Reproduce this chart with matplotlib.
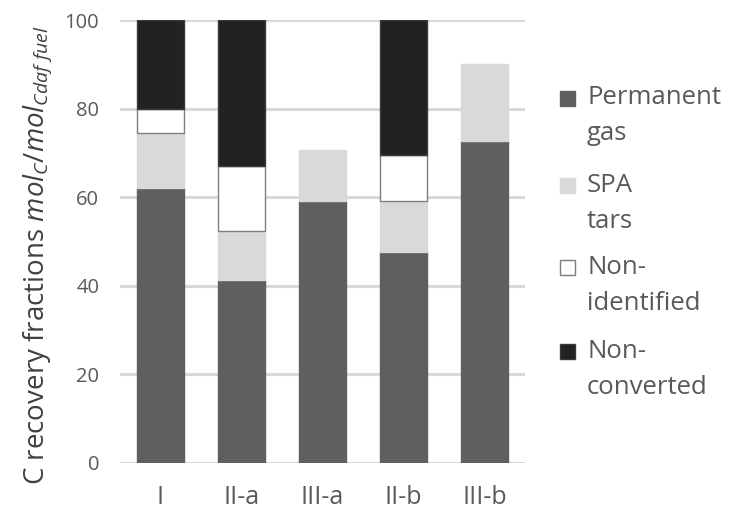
import matplotlib
matplotlib.use("Agg")
import matplotlib.pyplot as plt
from matplotlib.patches import Rectangle

categories = ["I", "II-a", "III-a", "II-b", "III-b"]
permanent_gas = [62.1, 41.3, 59.2, 47.6, 72.7]
spa_tars = [12.4, 11.1, 11.4, 11.5, 17.3]
non_identified = [5.5, 14.6, 0.0, 10.4, 0.0]
non_converted = [20.0, 33.0, 0.0, 30.5, 0.0]
series_labels = [("Permanent", "gas"), ("SPA", "tars"), ("Non-", "identified"), ("Non-", "converted")]
yticks = [0, 20, 40, 60, 80, 100]

plt.rcParams["font.family"] = ["Open Sans", "DejaVu Sans"]
plt.rcParams["mathtext.fontset"] = "custom"
plt.rcParams["mathtext.it"] = "Open Sans:italic"
plt.rcParams["mathtext.rm"] = "Open Sans"

fig = plt.figure(figsize=(7.3, 5.12), dpi=100)
ax = fig.add_axes([120/730, 49/512, 405/730, 443/512])

colors = ["#5f5f5f", "#d9d9d9", "#ffffff", "#222222"]
edges = ["#5f5f5f", "#d9d9d9", "#7f7f7f", "#3a3a3a"]
x = list(range(len(categories)))
bottom = [0.0] * len(categories)
for vals, c, e in zip([permanent_gas, spa_tars, non_identified, non_converted], colors, edges):
    mask_x = [xi for xi, v in zip(x, vals) if v > 0]
    mask_v = [v for v in vals if v > 0]
    mask_b = [b for b, v in zip(bottom, vals) if v > 0]
    ax.bar(mask_x, mask_v, bottom=mask_b, width=0.57, color=c, edgecolor=e, linewidth=1.0, zorder=3)
    bottom = [b + v for b, v in zip(bottom, vals)]

ax.set_xlim(-0.5, 4.5)
ax.set_ylim(0, 100)
ax.set_yticks(yticks)
ax.set_xticks(x)
ax.set_xticklabels(categories)
for s in ax.spines.values():
    s.set_visible(False)
ax.yaxis.grid(True, color="#d9d9d9", linewidth=2.2, zorder=0)
ax.set_axisbelow(True)
ax.tick_params(axis="both", length=0, colors="#595959")
ax.tick_params(axis="y", pad=15, labelsize=14.5)
ax.tick_params(axis="x", pad=16, labelsize=18)

fig.text(38/730, 1 - 255/512, r"C recovery fractions $mol_C/mol_{Cdaf\ fuel}$",
         rotation=90, ha="center", va="center", fontsize=20, color="#404040")

# legend
entry_y = [98, 185, 267, 351]
for (l1, l2), c, e, yy in zip(series_labels, colors, edges, entry_y):
    fig.patches.append(Rectangle(((560)/730, 1 - (yy + 8)/512), 15/730, 15/512,
                                 transform=fig.transFigure, facecolor=c,
                                 edgecolor=("#7f7f7f" if c == "#ffffff" else e), linewidth=1.0))
    fig.text(587/730, 1 - yy/512, l1, ha="left", va="center", fontsize=18.5, color="#595959")
    fig.text(587/730, 1 - (yy + 36)/512, l2, ha="left", va="center", fontsize=18.5, color="#595959")

fig.savefig("out.png", dpi=100)
